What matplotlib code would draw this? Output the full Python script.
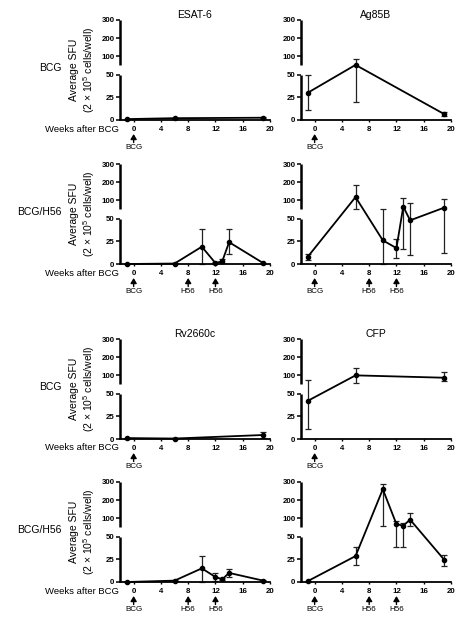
import numpy as np
import matplotlib.pyplot as plt

plt.rcParams['font.family'] = ['Liberation Sans', 'DejaVu Sans']
plt.rcParams['mathtext.default'] = 'regular'

BCG_WEEKS = [-1, 6, 19]
H56_WEEKS = [-1, 6, 10, 12, 13, 14, 19]

# mean and the two ends of each error bar (spots per 2 x 10^5 cells)
ESAT6_BCG = [1, 2, 2.5]
ESAT6_BCG_LO = [0.5, 1.5, 2]
ESAT6_BCG_HI = [1.5, 2.5, 3]
AG85B_BCG = [30, 53, 6.5]
AG85B_BCG_LO = [11, 20, 4]
AG85B_BCG_HI = [49, 86, 9]
ESAT6_H56 = [0, 0.5, 19, 1, 3, 24, 1]
ESAT6_H56_LO = [0, 0, 0, 0.5, 1, 10.5, 0.5]
ESAT6_H56_HI = [0, 1, 38, 2, 5.5, 38, 1.5]
AG85B_H56 = [8, 118, 26, 17.5, 66, 48, 60]
AG85B_H56_LO = [4, 52, 0, 7, 16, 10, 12]
AG85B_H56_HI = [11.5, 184, 51, 28, 112, 87, 109]

RV2660C_BCG = [1, 0.5, 4.4]
RV2660C_BCG_LO = [0.5, 0.2, 1.5]
RV2660C_BCG_HI = [1.5, 0.8, 7.4]
CFP_BCG = [42, 100, 87]
CFP_BCG_LO = [11, 57, 71]
CFP_BCG_HI = [74, 138, 116]
RV2660C_H56 = [0, 1.5, 15, 5.5, 3, 10, 1.5]
RV2660C_H56_LO = [0, 1, 0, 1, 2, 6, 1]
RV2660C_H56_HI = [0, 2, 29, 10, 4, 14, 2]
CFP_H56 = [1, 28.5, 260, 68, 60, 93, 24.5]
CFP_H56_LO = [0.5, 19, 60, 39, 39, 60, 17.5]
CFP_H56_HI = [1.5, 38, 290, 84, 75, 129, 30]

Y_TICKS = [0, 25, 50, 100, 200, 300]
X_TICKS = [0, 4, 8, 12, 16, 20]
BCG_SHOTS = [(0, 'BCG')]
H56_SHOTS = [(0, 'BCG'), (8, 'H56'), (12, 'H56')]

W, H = 467, 630


def fwd(v):
    v = np.asarray(v, dtype=float)
    return np.where(v <= 50, v, 60 + (v - 50) * 0.2)


def inv(t):
    t = np.asarray(t, dtype=float)
    return np.where(t <= 50, t, np.where(t < 60, 50, 50 + (t - 60) / 0.2))


def panel(fig, left, top, weeks, mean, lo, hi, shots, title=None, row_label=None):
    ax = fig.add_axes([left / W, 1 - (top + 100) / H, 150 / W, 100 / H])
    ax.set_yscale('function', functions=(fwd, inv))
    mean = np.array(mean, dtype=float)
    yerr = [mean - np.array(lo), np.array(hi) - mean]
    ax.errorbar(weeks, mean, yerr=yerr, fmt='o-', color='k', ms=3, lw=1.3,
                elinewidth=0.9, ecolor='#222222', capsize=2, capthick=0.9, clip_on=False)
    ax.set_xlim(-2, 20)
    ax.set_ylim(0, 300)
    ax.set_xticks(X_TICKS)
    ax.set_yticks(Y_TICKS)
    ax.tick_params(axis='y', length=3, width=1.1, pad=1, labelsize=5.7)
    ax.tick_params(axis='x', length=1.5, width=1, pad=2.5, labelsize=5.7)
    plt.setp(ax.get_xticklabels() + ax.get_yticklabels(), fontweight='bold')
    for s in ['top', 'right', 'left']:
        ax.spines[s].set_visible(False)
    ax.spines['bottom'].set_linewidth(1.3)
    # broken y axis drawn as two pieces
    tr = ax.get_yaxis_transform()
    ax.plot([0, 0], [0, 50], color='k', lw=1.8, transform=tr, clip_on=False, solid_capstyle='butt')
    ax.plot([0, 0], [50.5, 300], color='k', lw=1.8, transform=tr, clip_on=False, solid_capstyle='butt')
    for w, lab in shots:
        ax.annotate('', xy=(w, -0.14), xycoords=('data', 'axes fraction'),
                    xytext=(w, -0.225), textcoords=('data', 'axes fraction'),
                    arrowprops=dict(arrowstyle='-|>,head_length=0.3,head_width=0.18',
                                    color='k', lw=1, shrinkA=0, shrinkB=0, mutation_scale=10))
        ax.text(w, -0.24, lab, transform=ax.get_xaxis_transform(), ha='center', va='top', fontsize=5.8)
    if title:
        ax.set_title(title, fontsize=7.5, pad=1.5)
    if row_label:
        ax.text(-0.387, 0.52, row_label, transform=ax.transAxes, ha='right', va='center', fontsize=7.5)
        ax.text(-0.005, -0.09, 'Weeks after BCG', transform=ax.transAxes, ha='right', va='center', fontsize=6.8)
        ax.set_ylabel('Average SFU\n(2 × 10$^{5}$ cells/well)', fontsize=7.5, linespacing=1.15)
        ax.yaxis.set_label_coords(-0.155, 0.5)
    return ax


def main():
    fig = plt.figure(figsize=(W / 100, H / 100), dpi=100)
    panel(fig, 120, 20, BCG_WEEKS, ESAT6_BCG, ESAT6_BCG_LO, ESAT6_BCG_HI, BCG_SHOTS, 'ESAT-6', 'BCG')
    panel(fig, 301, 20, BCG_WEEKS, AG85B_BCG, AG85B_BCG_LO, AG85B_BCG_HI, BCG_SHOTS, 'Ag85B')
    panel(fig, 120, 164, H56_WEEKS, ESAT6_H56, ESAT6_H56_LO, ESAT6_H56_HI, H56_SHOTS, None, 'BCG/H56')
    panel(fig, 301, 164, H56_WEEKS, AG85B_H56, AG85B_H56_LO, AG85B_H56_HI, H56_SHOTS)
    panel(fig, 120, 339, BCG_WEEKS, RV2660C_BCG, RV2660C_BCG_LO, RV2660C_BCG_HI, BCG_SHOTS, 'Rv2660c', 'BCG')
    panel(fig, 301, 339, BCG_WEEKS, CFP_BCG, CFP_BCG_LO, CFP_BCG_HI, BCG_SHOTS, 'CFP')
    panel(fig, 120, 482, H56_WEEKS, RV2660C_H56, RV2660C_H56_LO, RV2660C_H56_HI, H56_SHOTS, None, 'BCG/H56')
    panel(fig, 301, 482, H56_WEEKS, CFP_H56, CFP_H56_LO, CFP_H56_HI, H56_SHOTS)
    plt.savefig('out.png', dpi=100)


if __name__ == '__main__':
    main()
